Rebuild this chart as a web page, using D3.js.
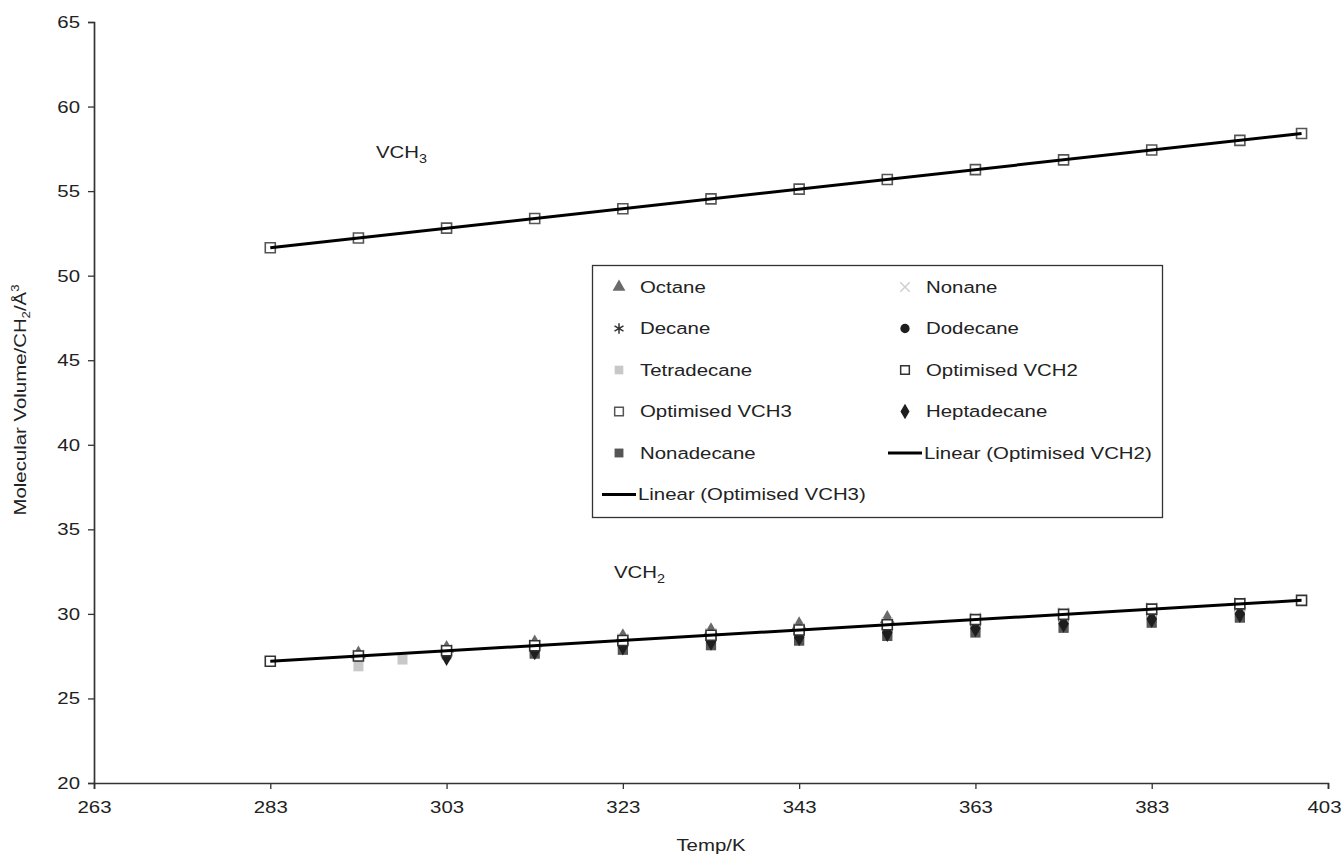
<!DOCTYPE html>
<html>
<head>
<meta charset="utf-8">
<script src="https://cdn.jsdelivr.net/npm/d3@7"></script>
<style>
  body { margin: 0; background: #fff; }
  svg { font-family: "Liberation Sans", Arial, sans-serif; }
</style>
</head>
<body>
<div class="graph-container"></div>
<script>
var svgWidth = 1343;
var svgHeight = 855;
var textStretch = 1.2; // the source picture is a bit wider than tall

// temperatures (K)
var tempsMain = [293, 303, 313, 323, 333, 343, 353, 363, 373, 383, 393];
var tempsOctane = [293, 303, 313, 323, 333, 343, 353];
var tempsTetra = [293, 298, 303, 313, 323, 333, 343, 353, 363, 373, 383, 393];
var tempsHepta = [303, 313, 323, 333, 343, 353, 363, 373, 383, 393];
var tempsNona = [313, 323, 333, 343, 353, 363, 373, 383, 393];
var tempsOpt = [283, 293, 303, 313, 323, 333, 343, 353, 363, 373, 383, 393, 400];

// molecular volume values
var octane = [27.62, 27.95, 28.28, 28.65, 29.0, 29.35, 29.72];
var nonane = [27.55, 27.88, 28.18, 28.5, 28.82, 29.14, 29.45, 29.75, 30.05, 30.35, 30.65];
var decane = [27.48, 27.78, 28.08, 28.38, 28.68, 28.98, 29.28, 29.58, 29.88, 30.18, 30.48];
var dodecane = [27.42, 27.68, 27.98, 28.25, 28.52, 28.8, 29.08, 29.35, 29.62, 29.9, 30.2];
var tetradecane = [26.9, 27.3, 27.58, 27.85, 28.12, 28.4, 28.66, 28.92, 29.2, 29.48, 29.76, 30.05];
var heptadecane = [27.45, 27.8, 28.08, 28.36, 28.62, 28.88, 29.15, 29.42, 29.7, 30.0];
var nonadecane = [27.65, 27.88, 28.15, 28.42, 28.7, 28.9, 29.18, 29.48, 29.78];
var optVCH2 = [27.2, 27.51, 27.82, 28.12, 28.43, 28.74, 29.05, 29.36, 29.66, 29.97, 30.28, 30.59, 30.8];
var optVCH3 = [51.65, 52.23, 52.81, 53.38, 53.96, 54.54, 55.12, 55.69, 56.27, 56.85, 57.43, 58.0, 58.41];

var xTicks = [263, 283, 303, 323, 343, 363, 383, 403];
var yTicks = [20, 25, 30, 35, 40, 45, 50, 55, 60, 65];

var svg = d3.select('.graph-container').append('svg')
  .attr('width', svgWidth)
  .attr('height', svgHeight);

var xScale = d3.scaleLinear().domain([263, 403]).range([94, 1328]);
var yScale = d3.scaleLinear().domain([20, 65]).range([783, 22]);

// axes
var xAxis = d3.axisBottom(xScale).tickValues(xTicks).tickSize(6).tickPadding(12).tickFormat(d3.format('d'));
var yAxis = d3.axisLeft(yScale).tickValues(yTicks).tickSize(6).tickPadding(8).tickFormat(d3.format('d'));

function styleAxis(g) {
  g.select('.domain').attr('stroke', '#333').attr('stroke-width', 1.7);
  g.selectAll('.tick line').attr('stroke', '#333').attr('stroke-width', 1.3);
  g.selectAll('.tick text')
    .style('font-size', '17px')
    .style('font-family', '"Liberation Sans", Arial, sans-serif')
    .attr('fill', '#222');
}

var xAxisG = svg.append('g')
  .attr('transform', 'translate(0,' + yScale(20) + ')')
  .call(xAxis)
  .call(styleAxis);

// keep the last x label inside the picture
xAxisG.selectAll('.tick text')
  .filter(function(d) { return d === 403; })
  .attr('x', -4);

svg.append('g')
  .attr('transform', 'translate(' + xScale(263) + ',0)')
  .call(yAxis)
  .call(styleAxis);

// axis titles
svg.append('text')
  .attr('x', 711)
  .attr('y', 851)
  .style('text-anchor', 'middle')
  .style('font-size', '17px')
  .attr('fill', '#222')
  .text('Temp/K');

var yTitle = svg.append('text')
  .attr('transform', 'translate(26,400) rotate(-90)')
  .style('text-anchor', 'middle')
  .style('font-size', '17px')
  .attr('fill', '#222');
yTitle.append('tspan').text('Molecular Volume/CH');
yTitle.append('tspan').attr('dy', 4).style('font-size', '11px').text('2');
yTitle.append('tspan').attr('dy', -4).text('/\u00C5');
yTitle.append('tspan').attr('dy', -7).style('font-size', '11px').text('3');

// marker styles
var styles = {
  octane: { symbol: d3.symbolTriangle, size: 95, fill: '#6a6a6a', stroke: 'none' },
  nonane: { symbol: d3.symbolX, size: 80, fill: 'none', stroke: '#cfcfcf' },
  decane: { symbol: d3.symbolAsterisk, size: 100, fill: 'none', stroke: '#333' },
  dodecane: { symbol: d3.symbolCircle, size: 90, fill: '#1e1e1e', stroke: 'none' },
  tetradecane: { symbol: d3.symbolSquare, size: 100, fill: '#c8c8c8', stroke: 'none' },
  heptadecane: { symbol: d3.symbolDiamond, size: 95, fill: '#1e1e1e', stroke: 'none' },
  nonadecane: { symbol: d3.symbolSquare, size: 105, fill: '#555', stroke: 'none' },
  optVCH2: { symbol: d3.symbolSquare, size: 100, fill: '#fff', stroke: '#333' },
  optVCH3: { symbol: d3.symbolSquare, size: 100, fill: '#fff', stroke: '#555' }
};

function drawSeries(name, temps, values) {
  var st = styles[name];
  var pts = temps.map(function(t, i) { return [t, values[i]]; });
  svg.append('g').selectAll('path')
    .data(pts)
    .enter()
    .append('path')
    .attr('transform', function(d) {
      return 'translate(' + xScale(d[0]) + ',' + yScale(d[1]) + ')';
    })
    .attr('d', d3.symbol().type(st.symbol).size(st.size))
    .attr('fill', st.fill)
    .attr('stroke', st.stroke)
    .attr('stroke-width', 1.6);
}

drawSeries('octane', tempsOctane, octane);
drawSeries('nonane', tempsMain, nonane);
drawSeries('decane', tempsMain, decane);
drawSeries('dodecane', tempsMain, dodecane);
drawSeries('tetradecane', tempsTetra, tetradecane);
drawSeries('nonadecane', tempsNona, nonadecane);
drawSeries('heptadecane', tempsHepta, heptadecane);
drawSeries('optVCH2', tempsOpt, optVCH2);
drawSeries('optVCH3', tempsOpt, optVCH3);

// linear trendlines (least squares through the optimised points)
function linearFit(xs, ys) {
  var mx = d3.mean(xs), my = d3.mean(ys);
  var num = d3.sum(xs, function(x, i) { return (x - mx) * (ys[i] - my); });
  var den = d3.sum(xs, function(x) { return (x - mx) * (x - mx); });
  var b = num / den;
  return { a: my - b * mx, b: b };
}

var line = d3.line()
  .x(function(d) { return xScale(d[0]); })
  .y(function(d) { return yScale(d[1]); });

[optVCH2, optVCH3].forEach(function(vals) {
  var fit = linearFit(tempsOpt, vals);
  var x0 = d3.min(tempsOpt), x1 = d3.max(tempsOpt);
  svg.append('path')
    .datum([[x0, fit.a + fit.b * x0], [x1, fit.a + fit.b * x1]])
    .attr('d', line)
    .attr('fill', 'none')
    .attr('stroke', '#000')
    .attr('stroke-width', 3);
});

// annotations
function labelWithSub(x, y, base, sub) {
  var t = svg.append('text')
    .attr('x', x)
    .attr('y', y)
    .style('font-size', '17px')
    .attr('fill', '#222');
  t.append('tspan').text(base);
  t.append('tspan').attr('dy', 5).style('font-size', '12px').text(sub);
}
labelWithSub(376, 158, 'VCH', '3');
labelWithSub(614, 578, 'VCH', '2');

// legend
var legendItems = [
  { key: 'octane', label: 'Octane', col: 0, row: 0 },
  { key: 'nonane', label: 'Nonane', col: 1, row: 0 },
  { key: 'decane', label: 'Decane', col: 0, row: 1 },
  { key: 'dodecane', label: 'Dodecane', col: 1, row: 1 },
  { key: 'tetradecane', label: 'Tetradecane', col: 0, row: 2 },
  { key: 'optVCH2', label: 'Optimised VCH2', col: 1, row: 2 },
  { key: 'optVCH3', label: 'Optimised VCH3', col: 0, row: 3 },
  { key: 'heptadecane', label: 'Heptadecane', col: 1, row: 3 },
  { key: 'nonadecane', label: 'Nonadecane', col: 0, row: 4 },
  { key: 'line', label: 'Linear (Optimised VCH2)', col: 1, row: 4 },
  { key: 'line', label: 'Linear (Optimised VCH3)', col: 0, row: 5 }
];

var legend = svg.append('g');
legend.append('rect')
  .attr('x', 592.5)
  .attr('y', 265.5)
  .attr('width', 570)
  .attr('height', 252)
  .attr('fill', '#fff')
  .attr('stroke', '#333')
  .attr('stroke-width', 1.3);

var colX = [619, 905];
var rowY = function(r) { return 287 + r * 41.5; };

legendItems.forEach(function(it) {
  var cx = colX[it.col], cy = rowY(it.row);
  if (it.key === 'line') {
    legend.append('line')
      .attr('x1', cx - 17).attr('x2', cx + 17)
      .attr('y1', cy).attr('y2', cy)
      .attr('stroke', '#000').attr('stroke-width', 3);
  } else {
    var st = styles[it.key];
    legend.append('path')
      .attr('transform', 'translate(' + cx + ',' + cy + ')')
      .attr('d', d3.symbol().type(st.symbol).size(st.size * 0.75))
      .attr('fill', st.fill)
      .attr('stroke', st.stroke)
      .attr('stroke-width', 1.5);
  }
  legend.append('text')
    .attr('x', it.key === 'line' ? cx + 19 : cx + 21)
    .attr('y', cy + 6)
    .style('font-size', '17px')
    .attr('fill', '#222')
    .text(it.label);
});

// widen all text horizontally about its anchor point
svg.selectAll('text').each(function() {
  var t = d3.select(this);
  var x = +t.attr('x') || 0;
  var prev = t.attr('transform') || '';
  t.attr('transform', prev + ' translate(' + (x * (1 - textStretch)) + ',0) scale(' + textStretch + ',1)');
});
</script>
</body>
</html>
